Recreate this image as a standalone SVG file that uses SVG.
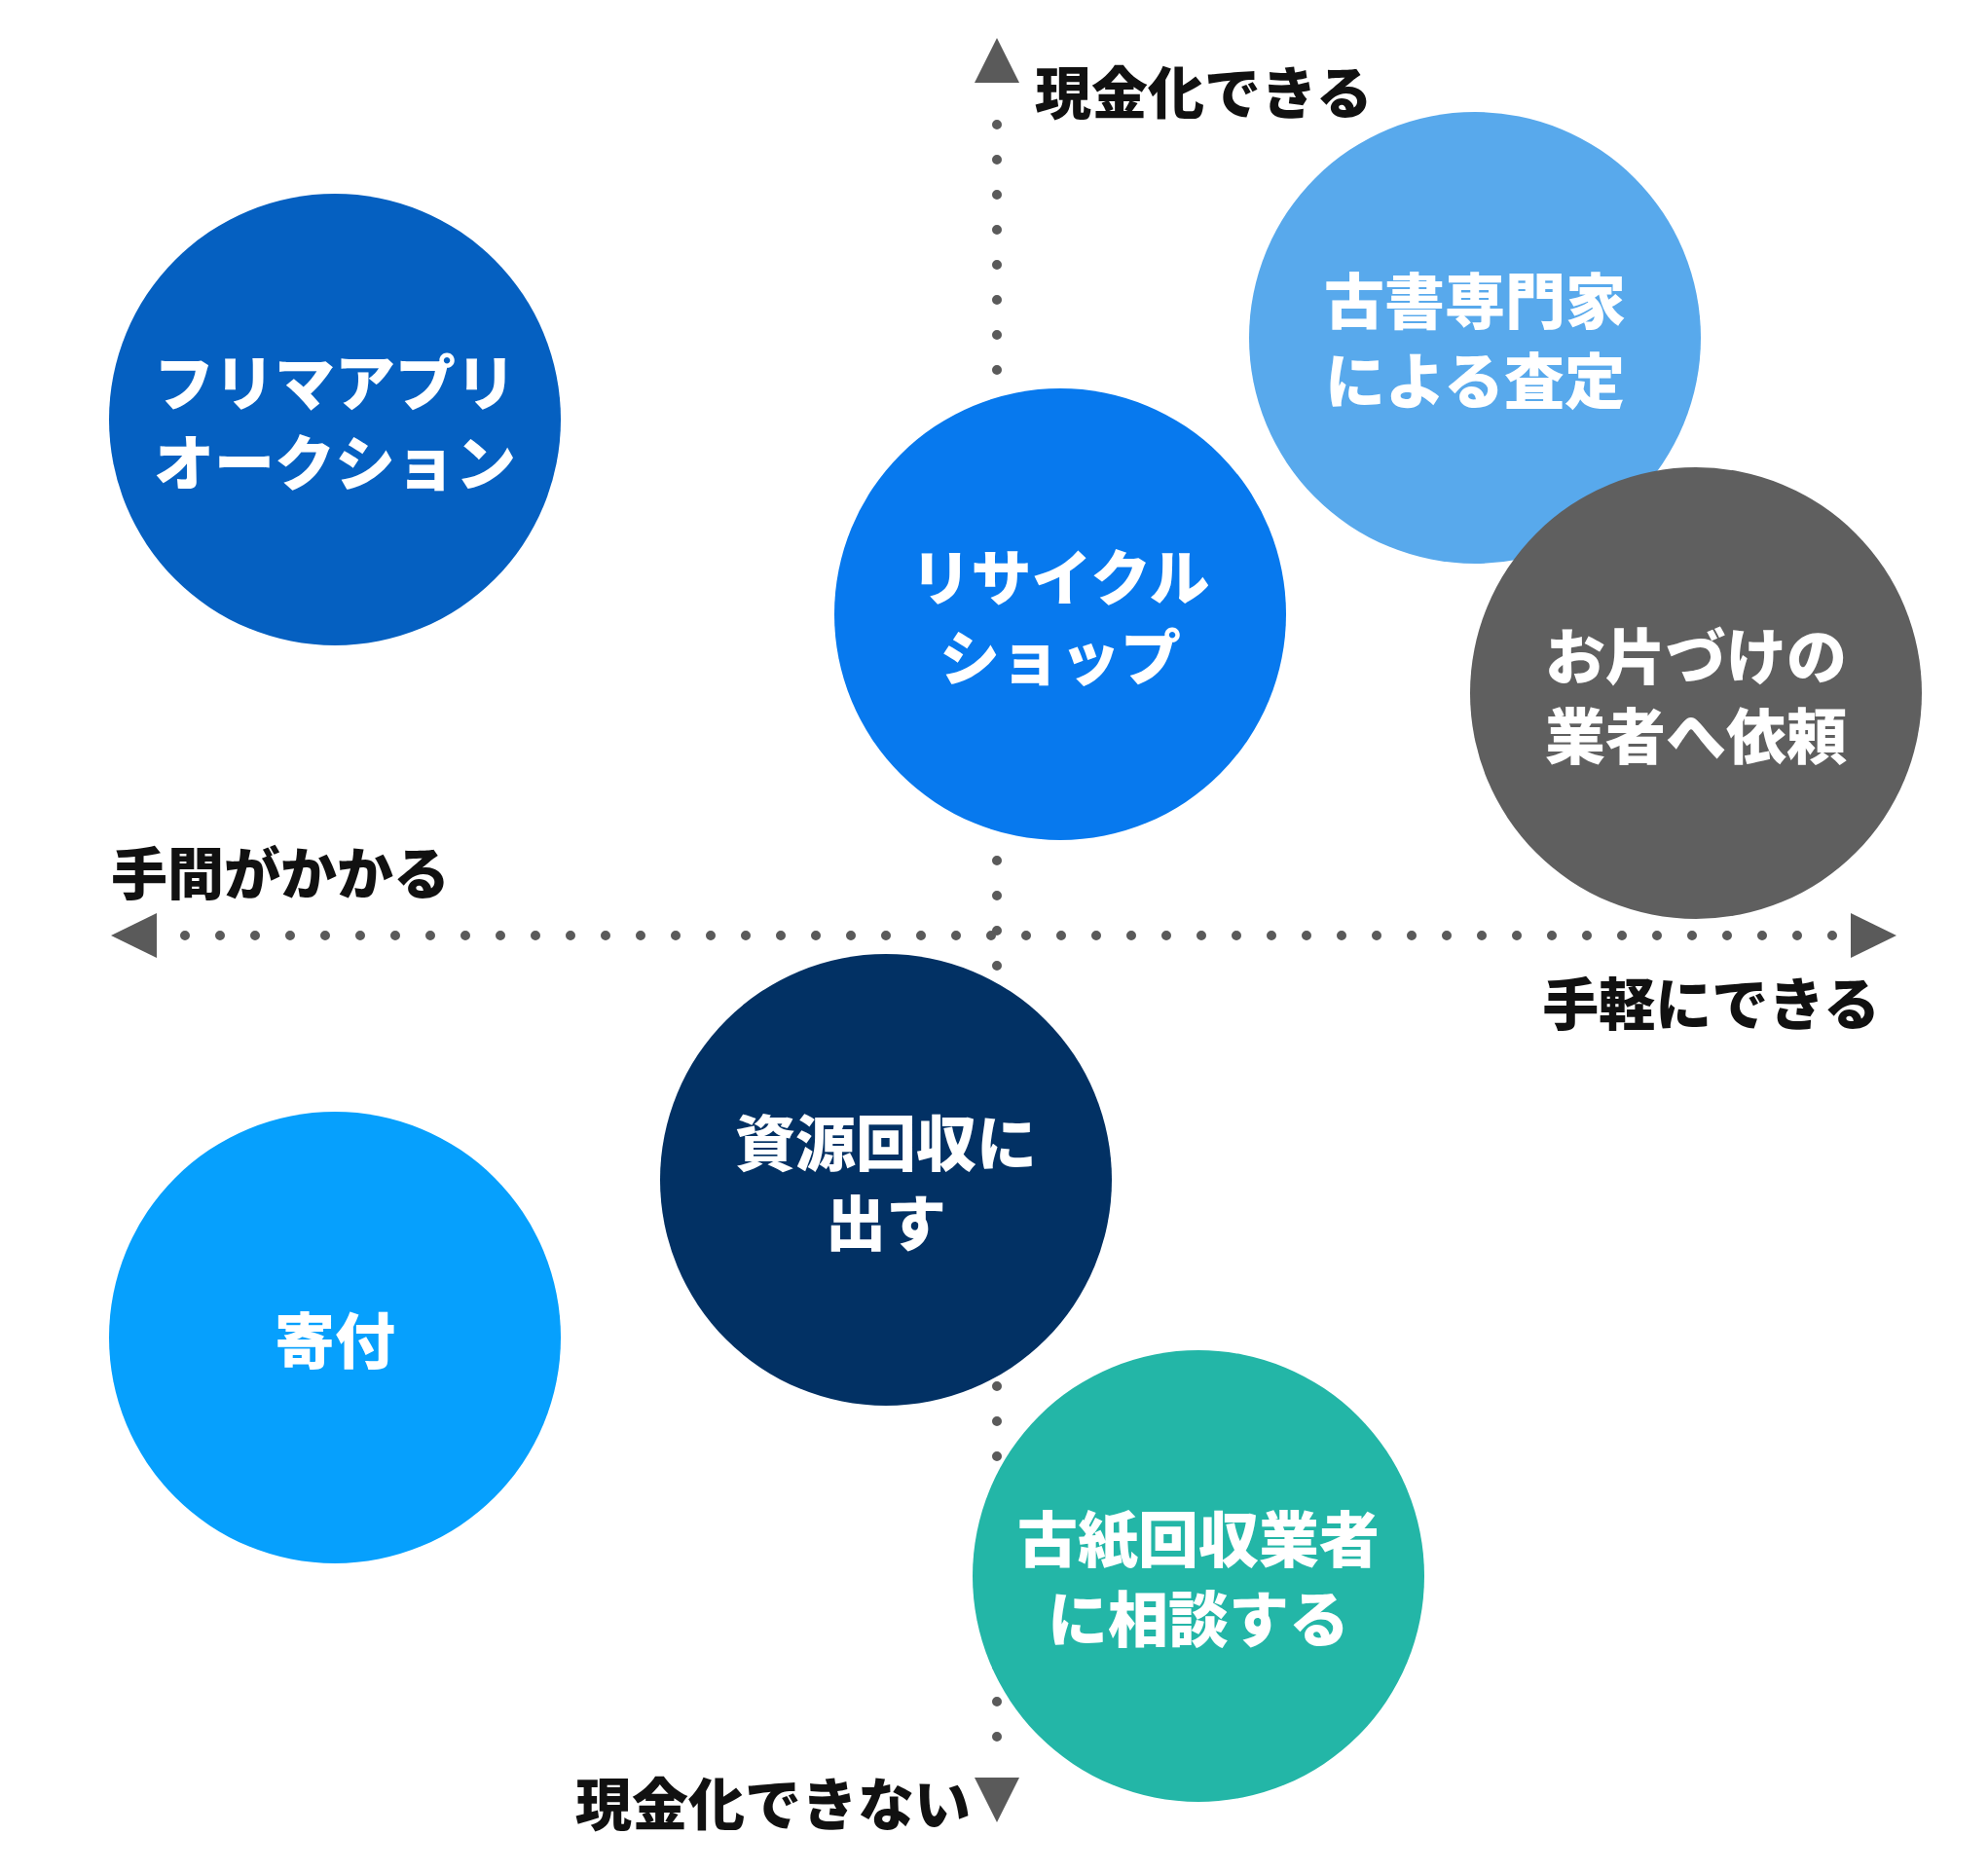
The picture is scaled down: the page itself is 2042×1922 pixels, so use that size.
<svg xmlns="http://www.w3.org/2000/svg" width="2042" height="1922" viewBox="0 0 2042 1922">
<style>
.ax{stroke:#5a5a5a;stroke-width:10;stroke-linecap:round;stroke-dasharray:0 36;fill:none}
.ah{fill:#5a5a5a}
.lb{font-family:"Noto Sans CJK JP",sans-serif;font-weight:900;font-size:58px;fill:#111}
.nt{font-family:"Noto Sans CJK JP",sans-serif;font-weight:900;font-size:62px;fill:#fff;text-anchor:middle;dominant-baseline:central}
</style>
<rect width="2042" height="1922" fill="#fff"/>
<g id="connectors">
<path class="ax" d="M1024 128 V1800"/>
<path class="ax" d="M190 961 H1895"/>
<polygon class="ah" points="1024,39 1001,85 1047,85"/>
<polygon class="ah" points="1024,1872 1001,1826 1047,1826"/>
<polygon class="ah" points="114,961 161,938 161,984"/>
<polygon class="ah" points="1948,961 1901,938 1901,984"/>
</g>
<g id="labels">
<text class="lb" x="1063" y="92" dominant-baseline="central">現金化できる</text>
<text class="lb" x="114" y="894" dominant-baseline="central">手間がかかる</text>
<text class="lb" x="1931" y="1028" text-anchor="end" dominant-baseline="central">手軽にできる</text>
<text class="lb" x="997" y="1850" text-anchor="end" dominant-baseline="central">現金化できない</text>
</g>
<g id="n1"><circle cx="344" cy="431" r="232" fill="#0560C1"/><text class="nt" x="344" y="390">フリマアプリ</text><text class="nt" x="344" y="472">オークション</text></g>
<g id="n2"><circle cx="1089" cy="631" r="232" fill="#0779EE"/><text class="nt" x="1089" y="590">リサイクル</text><text class="nt" x="1089" y="672">ショップ</text></g>
<g id="n3"><circle cx="1515" cy="347" r="232" fill="#58A9EC"/><text class="nt" x="1515" y="306">古書専門家</text><text class="nt" x="1515" y="388">による査定</text></g>
<g id="n4"><circle cx="1742" cy="712" r="232" fill="#5F5F5F"/><text class="nt" x="1742" y="671">お片づけの</text><text class="nt" x="1742" y="753">業者へ依頼</text></g>
<g id="n5"><circle cx="910" cy="1212" r="232" fill="#023164"/><text class="nt" x="910" y="1171">資源回収に</text><text class="nt" x="910" y="1253">出す</text></g>
<g id="n6"><circle cx="344" cy="1374" r="232" fill="#06A0FD"/><text class="nt" x="344" y="1374">寄付</text></g>
<g id="n7"><circle cx="1231" cy="1619" r="232" fill="#23B6A7"/><text class="nt" x="1231" y="1578">古紙回収業者</text><text class="nt" x="1231" y="1660">に相談する</text></g>
</svg>
